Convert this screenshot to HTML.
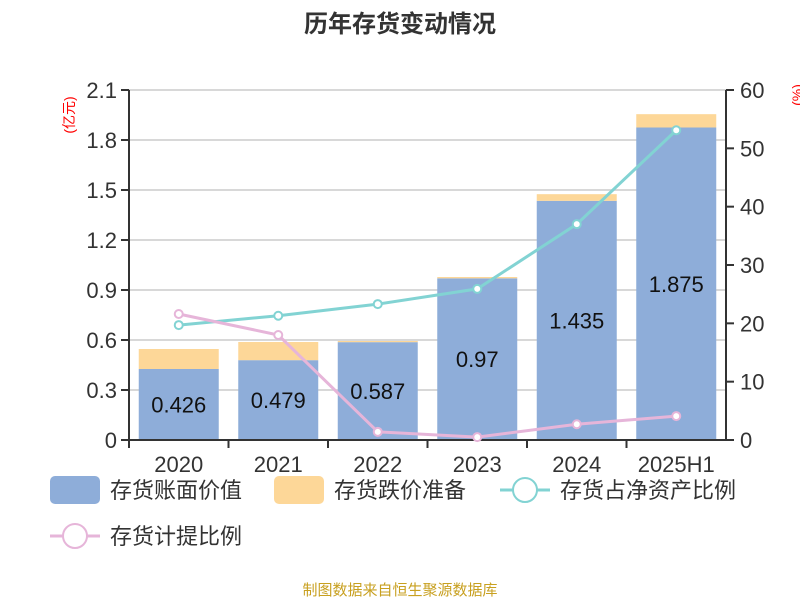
<!DOCTYPE html>
<html><head><meta charset="utf-8"><style>
body{margin:0;background:#fff;}
svg text{font-family:"Liberation Sans","Noto Sans CJK SC",sans-serif;}
</style></head><body>
<svg width="800" height="600" xmlns="http://www.w3.org/2000/svg">
<text x="400" y="32" text-anchor="middle" font-size="24" font-weight="bold" fill="#333">历年存货变动情况</text>
<text transform="translate(74,115) rotate(-90)" text-anchor="middle" font-size="14" fill="red">(亿元)</text>
<text transform="translate(802,95) rotate(-90)" text-anchor="middle" font-size="14" fill="red">(%)</text>
<g id="grid"></g><g id="bars"></g><g id="axes"></g><g id="lines"></g>
<g>
<rect x="50" y="476" width="50" height="28" rx="5" fill="#8eadd9"/>
<text x="110" y="498" font-size="22" fill="#333">存货账面价值</text>
<rect x="274" y="476" width="50" height="28" rx="5" fill="#fdd798"/>
<text x="334" y="498" font-size="22" fill="#333">存货跌价准备</text>
<line x1="500" y1="490" x2="550" y2="490" stroke="#82d3d3" stroke-width="3"/>
<circle cx="525" cy="490" r="12" fill="#fff" stroke="#82d3d3" stroke-width="2"/>
<text x="560" y="498" font-size="22" fill="#333">存货占净资产比例</text>
<line x1="50" y1="536" x2="100" y2="536" stroke="#e6b5d9" stroke-width="3"/>
<circle cx="75" cy="536" r="12" fill="#fff" stroke="#e6b5d9" stroke-width="2"/>
<text x="110" y="544" font-size="22" fill="#333">存货计提比例</text>
</g>
<text x="400" y="595" text-anchor="middle" font-size="15" fill="#c8a020">制图数据来自恒生聚源数据库</text>
</svg>
<script>
const categories=["2020","2021","2022","2023","2024","2025H1"];
const bookValue=[0.426,0.479,0.587,0.97,1.435,1.875];
const reserve=[0.12,0.109,0.007,0.008,0.04,0.08];
const netAssetRatio=[19.7,21.3,23.3,25.9,37.0,53.1];
const provisionRatio=[21.6,18.0,1.4,0.5,2.7,4.1];
const leftTicks=["0","0.3","0.6","0.9","1.2","1.5","1.8","2.1"];
const rightTicks=["0","10","20","30","40","50","60"];
const NS="http://www.w3.org/2000/svg";
const X0=129,X1=726,Y0=440,Y1=90;
const band=(X1-X0)/categories.length;
const xc=i=>X0+band*(i+0.5);
const yl=v=>Y0-(v/2.1)*(Y0-Y1);
const yr=v=>Y0-(v/60)*(Y0-Y1);
function mk(tag,attrs,parent){const e=document.createElementNS(NS,tag);for(const k in attrs)e.setAttribute(k,attrs[k]);document.getElementById(parent).appendChild(e);return e;}
leftTicks.forEach(t=>{const y=yl(+t);
 const g=mk('line',{x1:X0,x2:X1,y1:y,y2:y,stroke:'#ccc','stroke-width':1.5},'grid');
 
 
 const tk=mk('line',{x1:X0-8,x2:X0,y1:y,y2:y,stroke:'#333','stroke-width':2},'axes');
 
 
 const tx=mk('text',{x:X0-12,y:y+8,'text-anchor':'end','font-size':22,fill:'#333'},'axes');tx.textContent=t;
 
 
});
rightTicks.forEach(t=>{const y=yr(+t);
 const tk=mk('line',{x1:X1,x2:X1+8,y1:y,y2:y,stroke:'#333','stroke-width':2},'axes');
 
 
 const tx=mk('text',{x:X1+14,y:y+8,'font-size':22,fill:'#333'},'axes');tx.textContent=t;
 
 
});
[[X0,'left-axis'],[X1,'right-axis']].forEach(([x,n])=>{const a=mk('line',{x1:x,x2:x,y1:Y1,y2:Y0,stroke:'#333','stroke-width':2},'axes');
 
 });
const xa=mk('line',{x1:X0,x2:X1,y1:Y0,y2:Y0,stroke:'#333','stroke-width':2},'axes');


categories.forEach((c,i)=>{
 const x=xc(i),w=80;
 const b=mk('rect',{x:x-w/2,y:yl(bookValue[i]),width:w,height:Y0-yl(bookValue[i]),fill:'#8eadd9'},'bars');
 
 
 const top=bookValue[i]+reserve[i];
 const r=mk('rect',{x:x-w/2,y:yl(top),width:w,height:yl(bookValue[i])-yl(top),fill:'#fdd798'},'bars');
 
 
 const lb=mk('text',{x:x,y:(yl(bookValue[i])+Y0)/2+8,'text-anchor':'middle','font-size':22,fill:'#111'},'bars');lb.textContent=String(bookValue[i]);
 
 
 const tk=mk('line',{x1:X0+band*i,x2:X0+band*i,y1:Y0,y2:Y0+8,stroke:'#333','stroke-width':2},'axes');
 
 
 const t=mk('text',{x:x,y:Y0+32,'text-anchor':'middle','font-size':22,fill:'#333'},'axes');t.textContent=c;
 
 
});
[[netAssetRatio,'#82d3d3','net-asset-ratio'],[provisionRatio,'#e6b5d9','provision-ratio']].forEach(([arr,col,n])=>{
 const pts=arr.map((v,i)=>xc(i)+','+yr(v)).join(' ');
 const pl=mk('polyline',{points:pts,fill:'none',stroke:col,'stroke-width':3},'lines');
 
 
 arr.forEach((v,i)=>{const c=mk('circle',{cx:xc(i),cy:yr(v),r:4,fill:'#fff',stroke:col,'stroke-width':2},'lines');
  
  });
});
</script>
</body></html>
